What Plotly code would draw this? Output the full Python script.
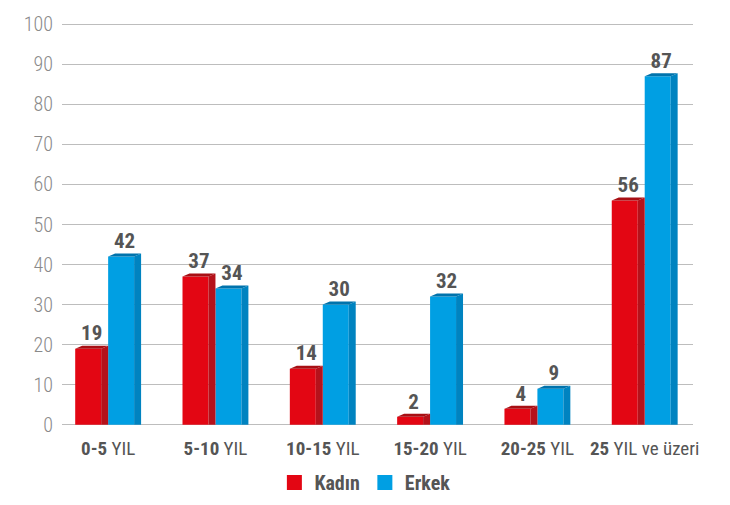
import plotly.graph_objects as go

# data
categories = ["<b>0-5</b> YIL", "<b>5-10</b> YIL", "<b>10-15</b> YIL",
              "<b>15-20</b> YIL", "<b>20-25</b> YIL", "<b>25</b> YIL ve üzeri"]
kadin = [19, 37, 14, 2, 4, 56]
erkek = [42, 34, 30, 32, 9, 87]

FONT = "Roboto Condensed, Noto Sans Condensed, Liberation Sans Narrow, sans-serif"
LABEL_COLOR = "#555555"

# 3d bar geometry (x in category units, depth rise in value units)
fw = 0.242
dx = 0.065
dy = 0.75

series = [
    ("Kadın", kadin, -(fw + dx), "#E30613", "#B5121B", "#A80F14"),
    ("Erkek", erkek, 0.0, "#009FE3", "#0083C0", "#0073AC"),
]

fig = go.Figure()

for name, vals, off, c_front, c_side, c_top in series:
    xs = [i + off + fw / 2 for i in range(len(vals))]
    fig.add_trace(go.Bar(
        x=xs, y=vals, width=fw, name=name,
        marker=dict(color=c_front, line=dict(width=0)),
        showlegend=False,
    ))

    # side faces
    sx, sy = [], []
    for i, v in enumerate(vals):
        xr = i + off + fw
        sx += [xr, xr, xr + dx, xr + dx, xr, None]
        sy += [0, v, v + dy, 0, 0, None]
    fig.add_trace(go.Scatter(x=sx, y=sy, mode="lines", fill="toself",
                             fillcolor=c_side, line=dict(width=0, color=c_side),
                             showlegend=False, hoverinfo="skip"))

    # top faces
    tx, ty = [], []
    for i, v in enumerate(vals):
        xl = i + off
        xr = xl + fw
        tx += [xl, xl + dx, xr + dx, xr, xl, None]
        ty += [v, v + dy, v + dy, v, v, None]
    fig.add_trace(go.Scatter(x=tx, y=ty, mode="lines", fill="toself",
                             fillcolor=c_top, line=dict(width=0, color=c_top),
                             showlegend=False, hoverinfo="skip"))

    # value labels
    fig.add_trace(go.Scatter(
        x=[i + off + (fw + dx) / 2 for i in range(len(vals))],
        y=[v + dy for v in vals],
        mode="text", text=[str(v) for v in vals], textposition="top center",
        textfont=dict(family=FONT, size=21, color=LABEL_COLOR, weight="bold"),
        showlegend=False, hoverinfo="skip",
    ))

    # legend entry with a bigger square
    fig.add_trace(go.Scatter(
        x=[None], y=[None], mode="markers", name=name,
        marker=dict(symbol="square", size=15, color=c_front),
        showlegend=True,
    ))

# page body has an 8px margin, so the figure is a bit smaller than the window
fig.update_layout(
    width=722, height=497,
    margin=dict(l=54, r=37, t=15, b=79, autoexpand=False),
    paper_bgcolor="white", plot_bgcolor="white",
    barmode="overlay",
    font=dict(family=FONT, color=LABEL_COLOR),
    legend=dict(orientation="h", x=0.48, xanchor="center", y=-0.14, yanchor="middle",
                font=dict(family=FONT, size=20, color=LABEL_COLOR, weight="bold"),
                itemwidth=30, traceorder="normal"),
    xaxis=dict(range=[-0.43, 5.45], tickvals=list(range(len(categories))),
               ticktext=categories, showgrid=False, zeroline=False, showline=False,
               tickfont=dict(family=FONT, size=19, color=LABEL_COLOR), ticks="",
               ticklabelstandoff=9),
    yaxis=dict(range=[-0.3, 100.3], dtick=10, showgrid=True, gridcolor="#BDBDBD",
               gridwidth=1, zeroline=True, zerolinecolor="#BDBDBD", zerolinewidth=1,
               showline=False, ticks="", ticklabelstandoff=8,
               tickfont=dict(family=FONT, size=20, color="#8A8A8A", weight=300)),
)

fig.write_html("out.html")
